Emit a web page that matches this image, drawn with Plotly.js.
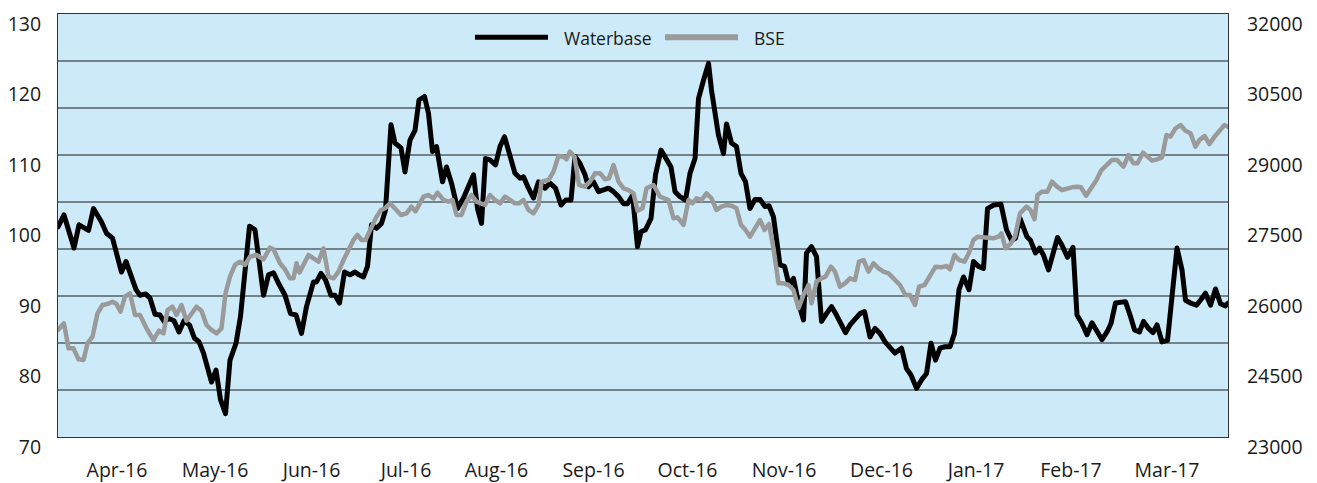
<!DOCTYPE html>
<html>
<head>
<meta charset="utf-8">
<script src="https://cdn.plot.ly/plotly-3.0.1.min.js"></script>
<style>
html,body{margin:0;padding:0;background:#fff;}
#chart{width:1317px;height:483px;}
.js-line{stroke-linejoin:round;stroke-linecap:round;}
</style>
</head>
<body>
<div id="chart"></div>
<script>
// Trading-day index (0 = start of April 2016, 234 = end of March 2017)
const wbDay = [0,1.2,3.2,4.2,6.1,7.1,8.7,9.7,10.9,12.7,13.6,15.6,16.4,17.5,18.4,19.4,20.4,21.2,22.2,23.2,24.2,25.2,26.3,27.3,28.2,29.1,30.7,31.6,32.5,33.5,34.4,35.6,36.5,38.3,39.4,41.1,42.1,43.1,44.1,45.4,46.5,47.6,48.7,49.7,51.1,51.7,52.6,53.5,54.6,55.4,56.3,57.3,58.4,59.4,60.2,61.1,61.9,62.7,63.7,64.7,65.5,66.6,67.4,68.6,69.4,70.4,71.4,72.2,73.3,74.1,74.9,75.7,76.9,77.7,78.7,79.9,81.1,82.1,83.1,83.9,84.7,85.5,86.4,87.5,88.4,89.3,90.4,91.4,92.4,93.1,94.1,95.1,96.1,97.4,98.4,99.5,100.6,101.5,102.6,103.4,104.4,105.4,106.1,107.1,108.1,109.1,110.1,111.1,112.1,113.1,113.9,114.9,115.9,116.6,117.5,118.6,119.5,120.6,121.7,122.6,123.4,124.4,125.5,126.4,127.4,128.1,129.1,130.1,130.7,131.4,132.1,133.1,133.7,134.7,135.7,136.6,137.5,138.4,139.4,140.4,141.4,142.2,143.1,144.4,145.3,146.2,147.1,148.1,149.1,149.7,150.7,151.7,152.7,153.7,154.7,155.7,156.6,157.5,158.4,159.4,160.4,161.3,162.4,163.4,164.4,165.4,166.4,167.4,168.7,169.7,170.6,171.7,172.7,173.7,174.6,175.5,176.4,177.4,178.4,179.3,180.2,181.1,182.2,183.1,184.1,185.1,185.9,187.1,188.6,189.7,190.7,191.5,192.4,193.8,194.5,195.5,196.3,197.1,198.1,199.0,199.9,200.8,201.9,203.0,203.8,204.8,205.8,206.8,207.8,208.8,209.8,210.6,211.5,212.5,213.5,214.5,215.3,216.3,217.1,218.1,219.0,219.8,220.8,221.9,222.8,223.8,224.8,225.5,226.5,227.7,228.6,229.5,230.5,231.5,232.5,233.5,234];
const waterbase = [99.8,101.5,96.8,100.1,99.3,102.4,100.5,98.9,98.2,93.4,94.9,90.9,90.1,90.3,89.7,87.4,87.3,86.4,86.8,86.5,84.9,86.5,85.9,84.0,83.5,81.9,77.8,79.5,75.3,73.3,80.9,83.3,87.1,99.9,99.4,90.1,93.0,93.3,91.8,90.1,87.5,87.3,84.7,88.5,92.0,92.0,93.2,92.3,90.1,90.1,89.0,93.4,93.0,93.4,93.0,92.7,94.2,100.1,99.6,100.3,102.2,114.3,111.7,111.0,107.6,112.1,113.5,117.8,118.3,115.9,110.5,111.2,106.2,108.3,106.0,102.4,103.9,105.5,107.2,102.4,100.3,109.5,109.3,108.6,111.2,112.6,109.8,107.4,106.7,106.9,105.3,103.9,106.2,105.3,106.0,105.3,102.9,103.6,103.6,109.8,108.8,107.2,105.5,106.2,104.8,105.0,105.3,104.8,104.1,103.1,103.1,104.3,97.0,99.1,99.4,101.0,107.2,110.7,109.5,108.3,104.8,104.1,103.6,107.4,109.5,118.0,120.6,123.0,119.2,115.9,112.8,110.2,114.4,111.7,111.2,107.4,106.2,102.4,103.7,103.7,102.7,102.8,101.2,94.4,94.2,91.6,92.5,89.0,86.6,96.1,97.0,95.6,86.4,87.5,88.5,87.3,85.9,84.8,85.9,86.8,87.5,87.8,84.2,85.4,84.7,83.5,82.6,81.9,82.6,79.7,78.8,76.9,78.1,79.0,83.3,80.9,82.6,82.8,82.8,84.7,90.9,92.7,90.9,94.9,94.2,93.9,102.4,102.9,103.0,99.4,97.9,98.2,101.0,98.4,97.9,96.1,96.8,95.8,93.7,96.1,98.3,97.2,95.5,96.9,87.3,86.1,84.5,86.2,84.9,83.8,84.9,86.1,89.0,89.1,89.2,87.1,85.2,84.9,86.4,85.4,84.8,85.9,83.5,83.7,90.4,96.8,93.7,89.4,89.0,88.7,89.5,90.4,88.7,91.0,88.9,88.6,89.0];

const bseDay = [0,1.2,2.1,3.1,4.1,5.1,5.9,6.9,7.9,8.9,9.9,10.9,11.7,12.5,13.4,14.4,15.4,16.4,17.7,19.1,20.2,21.1,21.9,22.9,23.7,24.7,25.7,26.7,27.7,28.7,29.7,30.7,31.7,32.7,33.5,34.4,35.4,36.4,37.4,38.4,39.7,41.1,42.4,43.1,44.4,45.4,46.4,47.1,47.7,48.3,50.1,51.1,52.1,53.1,54.1,55.1,56.1,57.1,58.1,59.1,59.9,60.7,61.5,62.7,63.7,64.6,65.4,66.4,67.4,68.6,69.7,70.7,71.5,72.2,73.1,74.1,75.1,75.9,77.1,78.1,78.9,79.7,80.7,81.7,82.7,83.7,84.4,85.4,86.4,87.4,88.4,89.4,90.4,91.4,92.2,93.1,94.1,95.1,96.1,96.7,98.1,99.1,100.1,101.1,101.7,102.4,103.3,104.2,105.4,106.4,107.4,108.4,109.4,110.2,111.1,112.1,113.1,114.1,115.1,115.9,116.9,117.7,119.1,120.4,122.1,123.1,123.9,125.1,126.1,126.9,127.7,128.7,129.7,130.7,131.7,132.7,133.7,134.7,135.7,136.6,137.4,138.4,139.4,140.4,141.3,142.2,143.1,144.1,145.1,146.1,147.1,148.1,149.1,150.1,150.7,151.7,152.7,153.5,154.6,155.4,156.4,157.4,158.4,159.4,160.2,161.1,162.1,163.1,164.1,165.1,166.1,167.1,168.4,169.5,170.4,171.4,172.2,173.3,174.4,175.5,176.6,177.7,178.4,179.3,180.2,181.3,182.2,183.1,183.9,184.9,185.9,187.1,188.1,188.7,189.5,190.6,191.4,192.4,193.7,194.5,195.3,195.9,196.8,197.9,198.8,199.8,200.8,201.8,202.8,203.8,204.6,205.6,206.6,207.7,208.6,209.7,210.8,211.8,213.1,214.1,215.1,215.9,217.0,217.9,218.8,219.8,220.8,221.7,222.5,223.5,224.5,225.5,226.5,227.5,228.3,229.3,230.3,231.3,232.3,233.3,234];
const bse = [25277,25419,24887,24887,24653,24638,24993,25135,25632,25809,25830,25879,25830,25666,25985,26057,25596,25596,25313,25064,25262,25206,25702,25772,25596,25809,25474,25632,25772,25687,25383,25277,25206,25313,26057,26411,26660,26730,26660,26836,26872,26780,27028,26994,26696,26568,26376,26376,26696,26500,26872,26802,26730,27015,26411,26376,26517,26766,26979,27191,27298,27191,27191,27475,27688,27830,27866,27972,27866,27723,27759,27900,27800,27950,28113,28149,28078,28198,28043,28007,28043,27723,27723,28007,28149,28007,27972,27936,28149,28043,27972,28113,28043,27972,27972,28043,27830,27759,27936,28432,28468,28645,28979,28964,28909,29070,28964,28362,28326,28432,28611,28611,28483,28504,28787,28432,28291,28255,28185,27815,27866,28291,28362,28113,28043,27653,27674,27511,28043,27972,28078,28043,28185,28078,27830,27900,27936,27922,27866,27511,27419,27262,27440,27617,27404,27532,27015,26270,26270,26234,26128,25738,26021,26234,25844,26305,26376,26411,26624,26517,26198,26270,26376,26340,26730,26766,26517,26696,26589,26517,26483,26376,26234,26021,26021,25809,26198,26234,26411,26624,26610,26638,26568,26872,26766,26730,26922,27191,27262,27248,27248,27227,27262,27333,27015,27121,27262,27759,27900,27830,27632,28149,28220,28220,28432,28326,28255,28291,28312,28326,28312,28134,28291,28468,28666,28787,28894,28894,28751,29000,28823,28823,29049,28964,28879,28908,28950,29426,29390,29568,29638,29517,29461,29177,29319,29404,29234,29390,29517,29638,29602];

const monthLabels = ["Apr-16","May-16","Jun-16","Jul-16","Aug-16","Sep-16","Oct-16","Nov-16","Dec-16","Jan-17","Feb-17","Mar-17"];
const monthTickDay = [11.8,31.4,50.7,69.6,87.7,107.1,125.9,145.2,164.7,183.6,202.6,221.8];
const leftTicks = [70,80,90,100,110,120,130];
const rightTicks = [23000,24500,26000,27500,29000,30500,32000];
const gridLevels = [24000,25000,26000,27000,28000,29000,30000,31000]; // right-axis scale

const FONT = '"Open Sans", "Noto Sans", sans-serif';
const TXT = '#1a1a1a';

const traces = [
  {x: bseDay, y: bse, name: 'BSE', type: 'scatter', mode: 'lines',
   line: {color: '#9a9a9a', width: 4.5}, yaxis: 'y2', showlegend: false},
  {x: wbDay, y: waterbase, name: 'Waterbase', type: 'scatter', mode: 'lines',
   line: {color: '#000000', width: 5}, yaxis: 'y', showlegend: false}
];

const gridShapes = gridLevels.map(v => ({
  type: 'line', xref: 'paper', yref: 'y2', x0: 0, x1: 1, y0: v, y1: v,
  layer: 'below', line: {color: '#1a1a1a', width: 1}
}));

const layout = {
  width: 1317, height: 483,
  margin: {l: 58, r: 89, t: 14, b: 46},
  paper_bgcolor: '#ffffff',
  plot_bgcolor: '#cdeaf8',
  font: {family: FONT, color: TXT, size: 19.5},
  showlegend: false,
  xaxis: {
    range: [0, 234], tickmode: 'array', tickvals: monthTickDay, ticktext: monthLabels,
    showgrid: false, zeroline: false, showline: true, mirror: true, linecolor: '#333', linewidth: 1,
    ticks: 'outside', ticklen: 16, tickcolor: 'rgba(0,0,0,0)',
    tickfont: {size: 19.5, family: FONT, color: TXT}
  },
  yaxis: {
    range: [70, 130], tickmode: 'array', tickvals: leftTicks,
    showgrid: false, zeroline: false, showline: true, mirror: true, linecolor: '#333', linewidth: 1,
    ticks: 'outside', ticklen: 12, tickcolor: 'rgba(0,0,0,0)',
    ticklabelshift: 10, ticklabeloverflow: 'allow',
    tickfont: {size: 19.5, family: FONT, color: TXT}
  },
  yaxis2: {
    overlaying: 'y', side: 'right', range: [23000, 32000], tickmode: 'array', tickvals: rightTicks,
    tickformat: 'd',
    showgrid: false, zeroline: false, showline: false,
    ticks: 'outside', ticklen: 14, tickcolor: 'rgba(0,0,0,0)',
    ticklabelshift: 10, ticklabeloverflow: 'allow',
    tickfont: {size: 19.5, family: FONT, color: TXT}
  },
  shapes: gridShapes.concat([
    {type: 'line', xref: 'paper', yref: 'paper', x0: 0.3564, x1: 0.4188, y0: 0.945, y1: 0.945,
     line: {color: '#000000', width: 5}},
    {type: 'line', xref: 'paper', yref: 'paper', x0: 0.5188, x1: 0.5812, y0: 0.945, y1: 0.945,
     line: {color: '#9a9a9a', width: 6}}
  ]),
  annotations: [
    {xref: 'paper', yref: 'paper', x: 0.4305, y: 0.944, xanchor: 'left', yanchor: 'middle',
     text: 'Waterbase', showarrow: false, font: {family: FONT, size: 17.5, color: TXT}},
    {xref: 'paper', yref: 'paper', x: 0.593, y: 0.944, xanchor: 'left', yanchor: 'middle',
     text: 'BSE', showarrow: false, font: {family: FONT, size: 17.5, color: TXT}}
  ]
};
Plotly.newPlot('chart', traces, layout, {staticPlot: true, displayModeBar: false});
</script>
</body>
</html>
